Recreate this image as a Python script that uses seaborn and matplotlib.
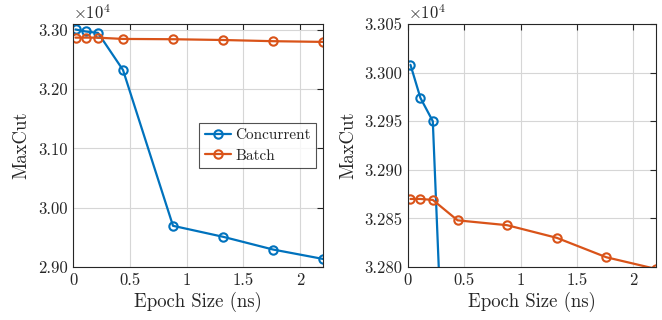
import numpy as np
import pandas as pd
import matplotlib
matplotlib.use("Agg")
import matplotlib.pyplot as plt
from matplotlib.ticker import FuncFormatter, MultipleLocator
import seaborn as sns

# ---- data ----
epoch_ns = [0.022, 0.11, 0.22, 0.44, 0.88, 1.32, 1.76, 2.2]
concurrent = [33008, 32974, 32950, 32324, 29695, 29510, 29295, 29136]
batch = [32870, 32870, 32869, 32848, 32843, 32830, 32810, 32798]
series_names = ["Concurrent", "Batch"]
colors = ["#0072BD", "#D95319"]

df = pd.DataFrame({
    "Epoch": epoch_ns * 2,
    "MaxCut": concurrent + batch,
    "Series": [series_names[0]] * len(epoch_ns) + [series_names[1]] * len(epoch_ns),
})

sns.set_style("white")
plt.rcParams["font.family"] = ["cmr10", "DejaVu Serif"]
plt.rcParams["mathtext.fontset"] = "cm"
plt.rcParams["axes.unicode_minus"] = False
plt.rcParams["axes.formatter.use_mathtext"] = True

fig = plt.figure(figsize=(6.62, 3.2), dpi=100)
ax1 = fig.add_axes([73 / 662, 53 / 320, 250 / 662, 243 / 320])
ax2 = fig.add_axes([408 / 662, 53 / 320, 248 / 662, 243 / 320])

for ax in (ax1, ax2):
    for name, col in zip(series_names, colors):
        sub = df[df["Series"] == name]
        sns.lineplot(data=sub, x="Epoch", y="MaxCut", ax=ax, color=col,
                     marker="o", markersize=6, markerfacecolor="none",
                     markeredgecolor=col, markeredgewidth=1.5, linewidth=1.6,
                     label=name, legend=False)
    ax.set_xlim(0, 2.2)
    ax.xaxis.set_major_locator(MultipleLocator(0.5))
    ax.xaxis.set_major_formatter(FuncFormatter(lambda v, p: f"{v:g}"))
    ax.grid(True, color="#d6d6d6", linewidth=0.8)
    ax.set_xlabel("Epoch Size (ns)", fontsize=13.5, labelpad=3)
    ax.set_ylabel("MaxCut", fontsize=13.5, labelpad=5)
    ax.tick_params(direction="in", top=True, right=True, length=4, width=0.8,
                   labelsize=12, colors="#262626", pad=4)
    for s in ax.spines.values():
        s.set_color("#262626")
        s.set_linewidth(0.8)
    ax.text(0.0, 1.01, r"$\times10^{4}$", transform=ax.transAxes,
            ha="left", va="bottom", fontsize=12, color="#262626")

ax1.set_ylim(29000, 33100)
ax1.yaxis.set_major_locator(MultipleLocator(1000))
ax1.yaxis.set_major_formatter(FuncFormatter(lambda v, p: f"{v / 1e4:.2f}"))

ax2.set_ylim(32800, 33050)
ax2.yaxis.set_major_locator(MultipleLocator(50))
ax2.yaxis.set_major_formatter(FuncFormatter(lambda v, p: f"{v / 1e4:.3f}"))

leg = ax1.legend(loc="upper right", bbox_to_anchor=(0.972, 0.593), fontsize=11,
                 frameon=True, fancybox=False, edgecolor="#262626",
                 handlelength=1.7, borderpad=0.35, labelspacing=0.45,
                 handletextpad=0.3, borderaxespad=0)
leg.get_frame().set_linewidth(0.8)

fig.savefig("out.png", dpi=100)
